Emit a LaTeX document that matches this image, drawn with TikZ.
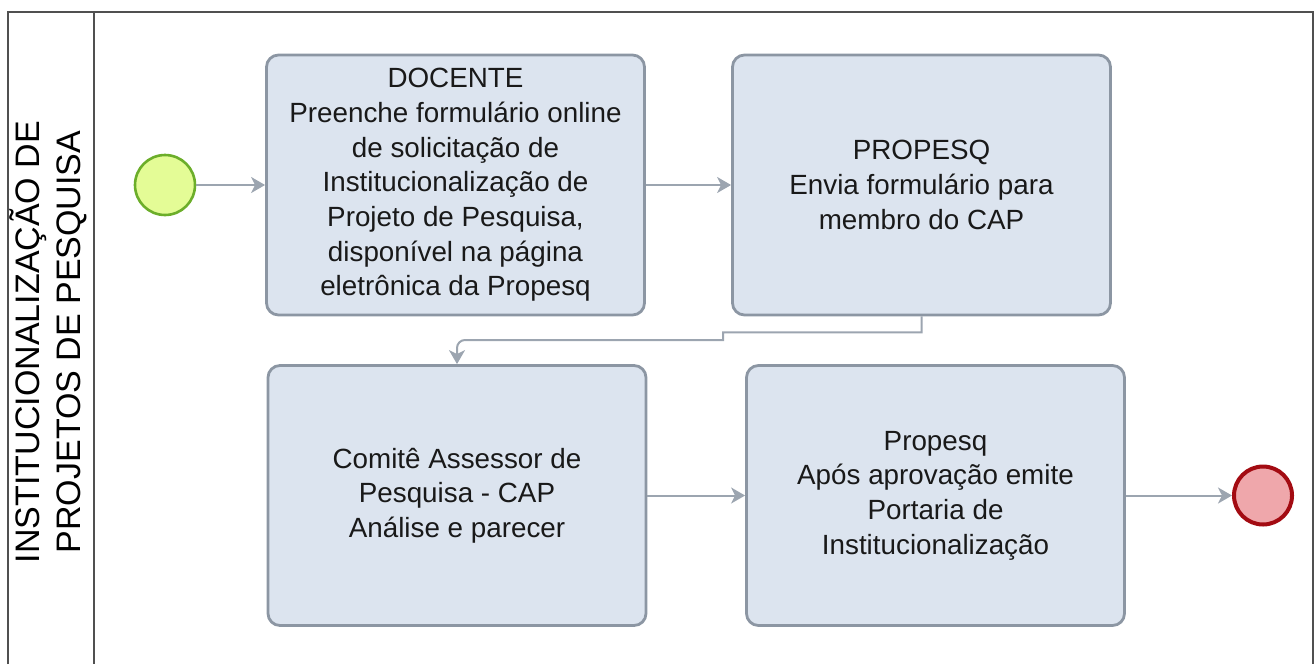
\documentclass[tikz,border=0pt]{standalone}
\usepackage{fontspec}
\setmainfont{Liberation Sans}
\usepackage{tikz}
\usetikzlibrary{arrows.meta}
\definecolor{taskColor}{HTML}{DCE4EF}
\definecolor{taskBorderColor}{HTML}{8C96A3}
\definecolor{flowColor}{HTML}{9CA5B0}
\definecolor{startColor}{HTML}{E4FC96}
\definecolor{startBorderColor}{HTML}{6CAE2A}
\definecolor{endColor}{HTML}{EFA7AB}
\definecolor{endBorderColor}{HTML}{A30B12}
\definecolor{laneColor}{HTML}{505050}

\begin{document}
\begin{tikzpicture}[x=0.5pt, y=-0.5pt,
    task/.style={draw=taskBorderColor, line width=1.4pt, fill=taskColor, rounded corners=6pt,
      minimum width=189pt, minimum height=130pt, align=center, text=black!90,
      font=\fontsize{13.9}{17.35}\selectfont, inner sep=0pt},
    flow/.style={draw=flowColor, line width=1pt, -{Stealth[length=7pt, width=8pt, inset=2pt]}},
    startevent/.style={circle, draw=startBorderColor, line width=1.3pt, fill=startColor, minimum size=30pt, inner sep=0pt},
    endevent/.style={circle, draw=endBorderColor, line width=2pt, fill=endColor, minimum size=29pt, inner sep=0pt}]
  \useasboundingbox (0,0) rectangle (1315,664);

  % pool and lane
  \draw[laneColor, line width=1pt] (8,664) -- (8,12) -- (1313,12) -- (1313,664);
  \draw[laneColor, line width=1pt] (94,12) -- (94,664);
  \node[rotate=90, align=center, font=\fontsize{17}{20.5}\selectfont] (lane) at (48,342)
    {INSTITUCIONALIZAÇÃO DE\\PROJETOS DE PESQUISA};

  % events and tasks
  \node[startevent] (inicio) at (165,185) {};
  \node[task] (docente) at (455.5,185) {DOCENTE\\Preenche formulário online\\de solicitação de\\Institucionalização de\\Projeto de Pesquisa,\\disponível na página\\eletrônica da Propesq};
  \node[task] (envia) at (921.5,185) {PROPESQ\\Envia formulário para\\membro do CAP};
  \node[task] (analise) at (457,495.5) {Comitê Assessor de\\Pesquisa - CAP\\Análise e parecer};
  \node[task] (portaria) at (935.5,495.5) {Propesq\\Após aprovação emite\\Portaria de\\Institucionalização};
  \node[endevent] (fim) at (1263,495.5) {};

  % sequence flows
  \draw[flow] (inicio) -- (docente);
  \draw[flow] (docente) -- (envia);
  \draw[flow] (envia.south) -- ++(0,16) -| (723,340) [rounded corners=4pt] -| (analise.north);
  \draw[flow] (analise) -- (portaria);
  \draw[flow] (portaria) -- (fim);
\end{tikzpicture}
\end{document}
